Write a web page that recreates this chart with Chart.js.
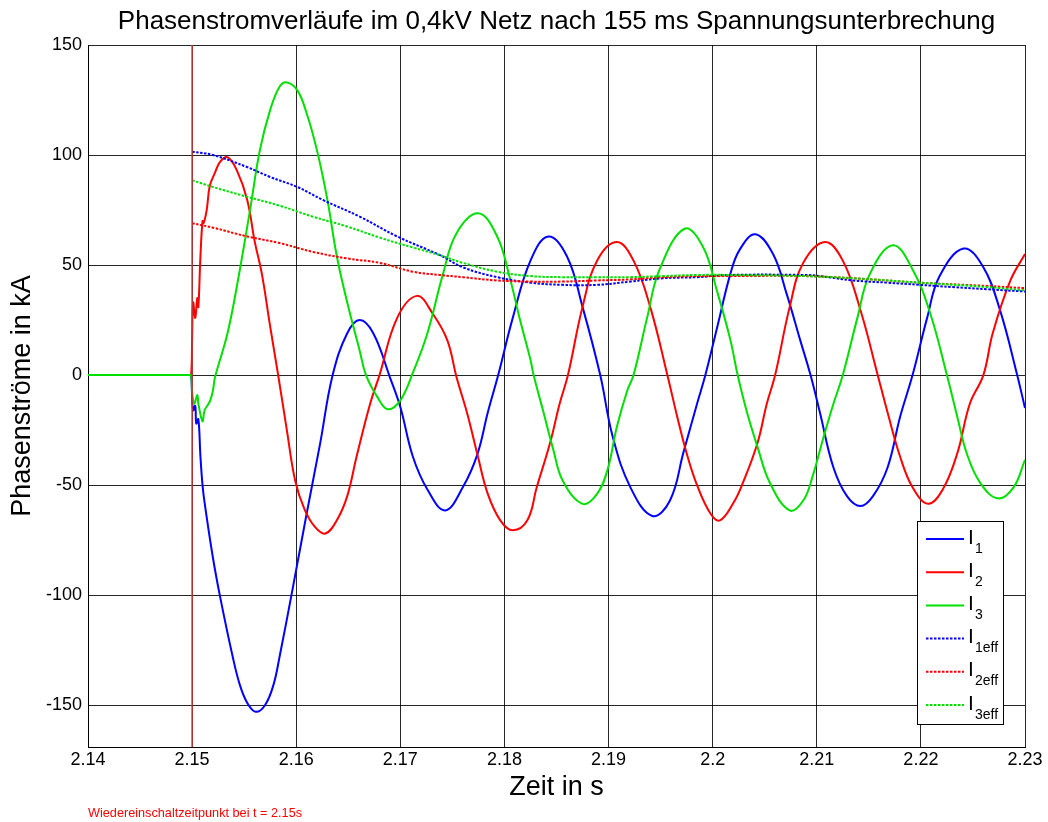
<!DOCTYPE html>
<html>
<head>
<meta charset="utf-8">
<script src="https://cdn.jsdelivr.net/npm/chart.js@4.4.1/dist/chart.umd.min.js"></script>
<style>
html,body{margin:0;padding:0;background:#fff;}
#wrap{width:1048px;height:822px;}
canvas{display:block;}
</style>
</head>
<body>
<div id="wrap"><canvas id="c" width="1048" height="822"></canvas></div>
<script>
// ---------- DATA ----------
const titleText = 'Phasenstromverläufe im 0,4kV Netz nach 155 ms Spannungsunterbrechung';
const xTitle = 'Zeit in s';
const yTitle = 'Phasenströme in kA';
const noteText = 'Wiedereinschaltzeitpunkt bei t = 2.15s';
const reclosingTime = 2.15;

const xTickValues = [2.14, 2.15, 2.16, 2.17, 2.18, 2.19, 2.20, 2.21, 2.22, 2.23];
const xTickLabels = ['2.14', '2.15', '2.16', '2.17', '2.18', '2.19', '2.2', '2.21', '2.22', '2.23'];
const yTickValues = [-150, -100, -50, 0, 50, 100, 150];
const yTickLabels = ['-150', '-100', '-50', '0', '50', '100', '150'];

const tI1 = [2.1400, 2.1450, 2.1490, 2.1497, 2.1499, 2.1500, 2.1501, 2.1503, 2.1504, 2.1506, 2.1508, 2.1510, 2.1512, 2.1520, 2.1527, 2.1539, 2.1546, 2.1553, 2.1561, 2.1570, 2.1578, 2.1584, 2.1597, 2.1610, 2.1623, 2.1635, 2.1649, 2.1661, 2.1674, 2.1690, 2.1700, 2.1712, 2.1726, 2.1743, 2.1760, 2.1774, 2.1784, 2.1794, 2.1808, 2.1825, 2.1842, 2.1860, 2.1875, 2.1892, 2.1904, 2.1921, 2.1942, 2.1959, 2.1972, 2.1985, 2.1993, 2.2005, 2.2017, 2.2026, 2.2041, 2.2058, 2.2071, 2.2084, 2.2094, 2.2103, 2.2116, 2.2129, 2.2142, 2.2154, 2.2168, 2.2180, 2.2192, 2.2206, 2.2218, 2.2241, 2.2260, 2.2276, 2.2292, 2.2300];
const vI1 = [0, 0, 0, 0, 0, -10, -16, -14, -22, -20, -37, -50, -58, -83, -101, -128, -141, -149, -153, -150, -141, -128, -96, -63, -31, 0, 19, 25, 19, -1, -14.5, -37, -52, -61.5, -51, -36, -17, 0, 26, 52, 63, 54, 31, 0, -28, -51, -64, -57, -35, -13, 0, 23, 46, 57, 64, 55, 37, 16, 0, -17, -42, -55, -59.5, -55, -42, -19, 0, 26, 45, 57.5, 49, 29.5, 1, -15];

const tI2 = [2.1400, 2.1450, 2.1490, 2.1497, 2.1499, 2.1500, 2.1501, 2.1503, 2.1505, 2.1506, 2.1508, 2.1510, 2.1511, 2.1514, 2.1517, 2.1522, 2.1527, 2.1534, 2.1543, 2.1553, 2.1560, 2.1567, 2.1575, 2.1583, 2.1591, 2.1599, 2.1608, 2.1618, 2.1628, 2.1639, 2.1649, 2.1658, 2.1671, 2.1680, 2.1697, 2.1716, 2.1731, 2.1745, 2.1754, 2.1764, 2.1774, 2.1784, 2.1796, 2.1808, 2.1822, 2.1831, 2.1844, 2.1853, 2.1861, 2.1875, 2.1889, 2.1908, 2.1924, 2.1940, 2.1957, 2.1966, 2.1975, 2.1985, 2.1998, 2.2007, 2.2020, 2.2029, 2.2043, 2.2052, 2.2060, 2.2074, 2.2087, 2.2108, 2.2125, 2.2142, 2.2158, 2.2168, 2.2180, 2.2192, 2.2207, 2.2221, 2.2235, 2.2247, 2.2260, 2.2269, 2.2286, 2.2300];
const vI2 = [0, 0, 0, 0, 0, 16, 33, 26, 35, 31, 54, 70, 69, 75, 86, 92, 97, 99, 93, 79.5, 61, 46, 22, -1, -25, -48, -61, -69, -72, -66, -55, -37, -13, 0, 26, 36, 28, 16, -1, -17, -36, -54, -66, -70.5, -66, -51, -30.5, -13, 0, 31, 52, 60.5, 52, 31, -1, -19, -35.5, -50, -63, -66, -58, -49, -31, -13, 0, 31, 51, 60.5, 52, 29.5, 1, -17, -37, -51, -58.5, -52, -35.5, -13, 0, 19, 43, 55];

const tI3 = [2.1400, 2.1450, 2.1490, 2.1497, 2.1499, 2.1500, 2.1502, 2.1505, 2.1506, 2.1510, 2.1512, 2.1517, 2.1520, 2.1522, 2.1534, 2.1544, 2.1556, 2.1565, 2.1575, 2.1584, 2.1591, 2.1601, 2.1610, 2.1620, 2.1630, 2.1639, 2.1649, 2.1661, 2.1667, 2.1678, 2.1688, 2.1700, 2.1712, 2.1726, 2.1741, 2.1754, 2.1775, 2.1793, 2.1805, 2.1815, 2.1825, 2.1828, 2.1837, 2.1847, 2.1856, 2.1875, 2.1889, 2.1899, 2.1908, 2.1918, 2.1924, 2.1937, 2.1949, 2.1973, 2.1991, 2.2004, 2.2017, 2.2024, 2.2033, 2.2043, 2.2055, 2.2074, 2.2087, 2.2096, 2.2106, 2.2116, 2.2125, 2.2139, 2.2151, 2.2173, 2.2192, 2.2209, 2.2225, 2.2235, 2.2244, 2.2257, 2.2274, 2.2289, 2.2300];
const vI3 = [0, 0, 0, 0, 0, -7.5, -13, -9, -13, -21, -16, -12, -7, -1, 19, 43, 76, 102, 120.5, 131, 133, 129.5, 119, 102, 79.5, 54, 33, 11, 0, -10, -15.5, -11.5, 1, 19, 46, 64.5, 73.5, 63, 44.5, 25, 7, 0, -16, -34, -48, -58.5, -54, -43, -23.5, -7, 0, 26, 48, 66.5, 58, 38.5, 16, 0, -17, -32.5, -49, -61.5, -57, -46, -29, -13, 0, 26, 46, 59, 48, 28, 0, -19, -35.5, -49, -56, -51, -38.5];

const tI1eff = [2.1500, 2.1520, 2.1553, 2.1575, 2.1601, 2.1626, 2.1661, 2.1697, 2.1738, 2.1760, 2.1793, 2.1825, 2.1856, 2.1889, 2.1921, 2.1952, 2.1985, 2.2017, 2.2087, 2.2103, 2.2135, 2.2168, 2.2199, 2.2231, 2.2264, 2.2300];
const vI1eff = [101.5, 100, 94.5, 90, 85.5, 79.5, 72, 63, 54.5, 49, 44.5, 42, 41, 41, 42.5, 44, 44.5, 45.5, 45.5, 45, 43, 42, 41, 40, 39, 38];

const tI2eff = [2.1500, 2.1520, 2.1553, 2.1584, 2.1616, 2.1649, 2.1680, 2.1712, 2.1738, 2.1760, 2.1793, 2.1825, 2.1856, 2.1889, 2.1921, 2.1952, 2.1985, 2.2017, 2.2087, 2.2135, 2.2199, 2.2264, 2.2300];
const vI2eff = [69, 67, 63, 60, 56, 53, 51, 47, 45.5, 44.5, 43, 42.5, 42.5, 43, 43.5, 44.5, 45, 45, 45, 44, 42, 40.5, 39.5];

const tI3eff = [2.1500, 2.1520, 2.1553, 2.1584, 2.1616, 2.1649, 2.1680, 2.1712, 2.1738, 2.1760, 2.1793, 2.1825, 2.1856, 2.1889, 2.1921, 2.1952, 2.1985, 2.2017, 2.2087, 2.2135, 2.2199, 2.2264, 2.2300];
const vI3eff = [88.5, 85.5, 81, 77, 72, 67.5, 62.5, 58, 54.5, 51, 47, 45, 44.5, 44.5, 44.5, 45, 45.5, 45.5, 45, 44, 42, 40, 38.5];

const yMin = -169, yMax = 150;

// ---------- BUILD ----------
const FONT = '"Liberation Sans", Arial, Helvetica, sans-serif';
const pts = (t, v) => t.map((x, i) => ({x: x, y: v[i]}));

const BLUE = '#0000ff', RED = '#ff0000', GREEN = '#00e000';

const series = [
  {label: '1', t: tI1, v: vI1, color: BLUE, dash: [], order: 6},
  {label: '2', t: tI2, v: vI2, color: RED, dash: [], order: 5},
  {label: '3', t: tI3, v: vI3, color: GREEN, dash: [], order: 4},
  {label: '1eff', t: tI1eff, v: vI1eff, color: BLUE, dash: [2.5, 1.5], order: 3},
  {label: '2eff', t: tI2eff, v: vI2eff, color: RED, dash: [2.5, 1.5], order: 2},
  {label: '3eff', t: tI3eff, v: vI3eff, color: GREEN, dash: [2.5, 1.5], order: 1}
];

const datasets = series.map(s => ({
  label: 'I' + s.label,
  data: pts(s.t, s.v),
  borderColor: s.color,
  borderWidth: 2,
  borderDash: s.dash,
  pointRadius: 0,
  fill: false,
  tension: 0.4,
  order: s.order
}));
datasets.push({
  label: 'reclose',
  data: [{x: reclosingTime, y: yMin}, {x: reclosingTime, y: yMax}],
  borderColor: '#c03636',
  borderWidth: 1.5,
  pointRadius: 0,
  tension: 0,
  order: 0
});

const textPlugin = {
  id: 'texts',
  afterDraw(chart) {
    const ctx = chart.ctx;
    const ca = chart.chartArea;
    ctx.save();
    ctx.fillStyle = '#000';
    ctx.textAlign = 'center';
    ctx.textBaseline = 'middle';
    ctx.font = '26px ' + FONT;
    ctx.fillText(titleText, (ca.left + ca.right) / 2, 22);
    ctx.font = '27px ' + FONT;
    ctx.fillText(xTitle, (ca.left + ca.right) / 2, 788);
    ctx.save();
    ctx.translate(23, (ca.top + ca.bottom) / 2);
    ctx.rotate(-Math.PI / 2);
    ctx.fillText(yTitle, 0, 0);
    ctx.restore();
    ctx.fillStyle = '#ff0000';
    ctx.textAlign = 'left';
    ctx.font = '12.7px ' + FONT;
    ctx.fillText(noteText, ca.left, 813);

    // legend
    const bx = 917, by = 521, bw = 86, bh = 203;
    ctx.fillStyle = '#fff';
    ctx.fillRect(bx, by, bw, bh);
    ctx.strokeStyle = '#000';
    ctx.lineWidth = 1;
    ctx.setLineDash([]);
    ctx.strokeRect(bx + 0.5, by + 0.5, bw, bh);
    series.forEach((s, i) => {
      const yy = 539 + i * 33.2;
      ctx.strokeStyle = s.color;
      ctx.lineWidth = 2;
      ctx.setLineDash(s.dash);
      ctx.beginPath();
      ctx.moveTo(926, yy);
      ctx.lineTo(964, yy);
      ctx.stroke();
      ctx.setLineDash([]);
      ctx.fillStyle = '#000';
      ctx.textAlign = 'left';
      ctx.textBaseline = 'alphabetic';
      ctx.font = '21px ' + FONT;
      ctx.fillText('I', 968, yy + 4.5);
      ctx.font = '14px ' + FONT;
      ctx.fillText(s.label, 975, yy + 13.5);
    });
    ctx.restore();
  }
};

new Chart(document.getElementById('c'), {
  type: 'line',
  data: {datasets: datasets},
  options: {
    responsive: false,
    animation: false,
    devicePixelRatio: 1,
    layout: {padding: {left: 0, right: 23, top: 45, bottom: 0}},
    plugins: {legend: {display: false}, title: {display: false}, tooltip: {enabled: false}},
    scales: {
      x: {
        type: 'linear',
        min: 2.14, max: 2.23,
        afterBuildTicks: s => { s.ticks = xTickValues.map(v => ({value: v})); },
        afterFit: s => { s.height = 75; },
        ticks: {
          autoSkip: false, maxRotation: 0,
          color: '#000', padding: 2,
          font: {family: FONT, size: 18},
          callback: (val, idx) => xTickLabels[idx]
        },
        grid: {color: 'rgba(0,0,0,0.85)', lineWidth: 1, drawTicks: false},
        border: {color: '#000', width: 1}
      },
      y: {
        type: 'linear',
        min: yMin, max: yMax,
        afterBuildTicks: s => { s.ticks = yTickValues.map(v => ({value: v})); },
        afterFit: s => { s.width = 88; },
        ticks: {
          autoSkip: false,
          color: '#000', padding: 6,
          font: {family: FONT, size: 18},
          callback: (val, idx) => yTickLabels[idx]
        },
        grid: {color: 'rgba(0,0,0,0.85)', lineWidth: 1, drawTicks: false},
        border: {color: '#000', width: 1}
      }
    }
  },
  plugins: [textPlugin]
});
</script>
</body>
</html>
